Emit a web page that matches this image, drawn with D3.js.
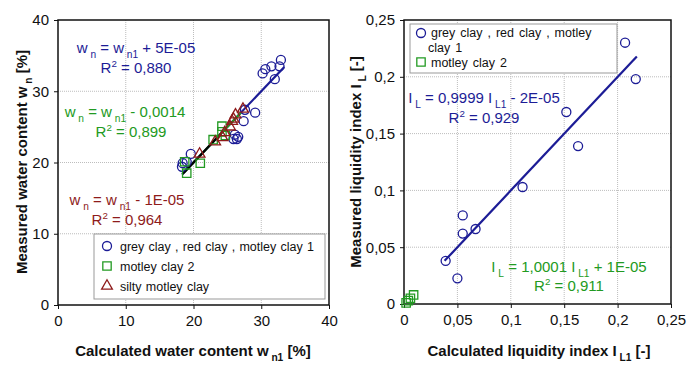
<!DOCTYPE html>
<html><head><meta charset="utf-8">
<script src="https://cdn.jsdelivr.net/npm/d3@7"></script>
<style>
body{margin:0;background:#fff;}
svg{font-family:"Liberation Sans",Arial,sans-serif;}
</style></head>
<body><svg id="c" width="700" height="373"></svg>
<script>
// ---- data ----
const leftTicks = [0, 10, 20, 30, 40];
const rightTicks = [0, 0.05, 0.1, 0.15, 0.2, 0.25];
const rightTickLabels = ["0", "0,05", "0,1", "0,15", "0,2", "0,25"];

const greyX = [18.4, 18.3, 19.0, 19.6, 25.9, 26.1, 26.4, 26.6, 27.4, 27.6, 29.1, 30.2, 30.6, 31.5, 32.0, 32.7, 32.9];
const greyY = [19.9, 19.4, 20.1, 21.2, 23.3, 23.9, 23.3, 23.6, 25.8, 27.4, 27.0, 32.5, 33.1, 33.5, 31.7, 33.5, 34.4];
const motleyX = [18.7, 19.0, 21.0, 22.9, 24.2, 24.2, 24.7];
const motleyY = [20.1, 18.5, 19.9, 23.2, 24.3, 25.1, 23.8];
const siltyX = [20.9, 23.2, 24.3, 24.6, 25.4, 25.7, 25.9, 26.2, 27.3];
const siltyY = [21.2, 22.9, 23.5, 24.2, 25.0, 25.8, 26.1, 26.7, 27.5];

const liqGreyX = [0.039, 0.050, 0.055, 0.055, 0.067, 0.111, 0.152, 0.163, 0.207, 0.217];
const liqGreyY = [0.038, 0.0226, 0.078, 0.062, 0.066, 0.103, 0.169, 0.139, 0.230, 0.198];
const liqMotleyX = [0.002, 0.004, 0.006, 0.009];
const liqMotleyY = [0.001, 0.003, 0.005, 0.008];

// trendlines: [slope, intercept, xStart, xEnd]
const trendGrey = [1, 0.00005, 18.3, 33.4];
const trendMotley = [1, -0.0014, 18.7, 27.0];
const trendBlack = [1, -0.00001, 18.4, 24.0];
const trendLiqGrey = [0.9999, -0.00002, 0.038, 0.218];

const BLUE = "#1c1c96", GREEN = "#229a22", RED = "#8e1b1b";

const svg = d3.select("#c");

function symbolPath(type, size) {
  return d3.symbol().type(type).size(size)();
}

function drawPanel(o) {
  const g = svg.append("g");
  const x = d3.scaleLinear().domain(o.domain).range([o.x0, o.x1]);
  const y = d3.scaleLinear().domain(o.domain).range([o.y1, o.y0]);
  g.append("g").selectAll("line").data(o.ticks.slice(1, -1)).join("line")
    .attr("x1", d => x(d)).attr("x2", d => x(d)).attr("y1", o.y0).attr("y2", o.y1)
    .attr("stroke", "#bdbdbd").attr("stroke-width", 1).attr("stroke-dasharray", "1,1");
  g.append("g").selectAll("line").data(o.ticks.slice(1, -1)).join("line")
    .attr("y1", d => y(d)).attr("y2", d => y(d)).attr("x1", o.x0).attr("x2", o.x1)
    .attr("stroke", "#bdbdbd").attr("stroke-width", 1).attr("stroke-dasharray", "1,1");
  const ax = d3.axisBottom(x).tickValues(o.ticks).tickSize(4).tickPadding(6).tickFormat((d, i) => o.labels[i]);
  const ay = d3.axisLeft(y).tickValues(o.ticks).tickSize(4).tickPadding(5).tickFormat((d, i) => o.labels[i]);
  const gx = g.append("g").attr("transform", `translate(0,${o.y1})`).call(ax);
  const gy = g.append("g").attr("transform", `translate(${o.x0},0)`).call(ay);
  [gx, gy].forEach(a => {
    a.select(".domain").remove();
    a.selectAll("text").attr("font-size", 15).attr("fill", "#111").attr("font-family", "Liberation Sans, Arial, sans-serif");
    a.selectAll("line").attr("stroke", "#111");
  });
  g.append("rect").attr("x", o.x0).attr("y", o.y0).attr("width", o.x1 - o.x0).attr("height", o.y1 - o.y0)
    .attr("fill", "none").attr("stroke", "#111").attr("stroke-width", 1.5);
  return {g, x, y};
}

function trend(p, t, color, w) {
  const xs = [t[2], t[3]];
  p.g.append("line")
    .attr("x1", p.x(xs[0])).attr("y1", p.y(t[0] * xs[0] + t[1]))
    .attr("x2", p.x(xs[1])).attr("y2", p.y(t[0] * xs[1] + t[1]))
    .attr("stroke", color).attr("stroke-width", w || 2.2);
}

function points(p, xs, ys, type, color, size) {
  p.g.append("g").selectAll("path").data(xs.map((d, i) => [d, ys[i]])).join("path")
    .attr("d", symbolPath(type, size))
    .attr("transform", d => `translate(${p.x(d[0])},${p.y(d[1])})`)
    .attr("fill", "none").attr("stroke", color).attr("stroke-width", 1.3);
}

function rich(parent, x, y, parts, opts) {
  const t = parent.append("text").attr("x", x).attr("y", y)
    .attr("font-size", opts.size).attr("fill", opts.color)
    .attr("font-weight", opts.weight || "normal")
    .attr("text-anchor", opts.anchor || "start")
    .style("white-space", "pre");
  if (opts.rotate) t.attr("transform", `rotate(-90,${x},${y})`);
  parts.forEach(([s, k]) => {
    const ts = t.append("tspan").text(s);
    if (k === "sub") ts.attr("font-size", opts.size * 0.68).attr("dy", opts.size * 0.3);
    else if (k === "sup") ts.attr("font-size", opts.size * 0.65).attr("dy", -opts.size * 0.38);
    else if (k === "back") ts.attr("dy", -opts.size * 0.3);
    else if (k === "backsup") ts.attr("dy", opts.size * 0.38);
  });
  return t;
}

// ---- left panel ----
const L = drawPanel({domain: [0, 40], ticks: leftTicks, labels: leftTicks.map(String), x0: 58, x1: 329, y0: 20, y1: 305});
trend(L, trendGrey, BLUE);
trend(L, trendMotley, GREEN);
trend(L, trendBlack, "#000");
points(L, greyX, greyY, d3.symbolCircle, BLUE, 64);
points(L, motleyX, motleyY, d3.symbolSquare, GREEN, 70);
points(L, siltyX, siltyY, d3.symbolTriangle, RED, 50);

const eqS = 15;
rich(L.g, 136, 53, [["w", "n"], [" n", "sub"], [" = w", "back"], [" n1", "sub"], [" + 5E-05", "back"]], {size: eqS, color: BLUE, anchor: "middle"});
rich(L.g, 136, 73, [["R", "n"], ["2", "sup"], [" = 0,880", "backsup"]], {size: eqS, color: BLUE, anchor: "middle"});
rich(L.g, 125, 117, [["w", "n"], [" n", "sub"], [" = w", "back"], [" n1", "sub"], [" - 0,0014", "back"]], {size: eqS, color: GREEN, anchor: "middle"});
rich(L.g, 131, 137, [["R", "n"], ["2", "sup"], [" = 0,899", "backsup"]], {size: eqS, color: GREEN, anchor: "middle"});
rich(L.g, 127, 205, [["w", "n"], [" n", "sub"], [" = w", "back"], [" n1", "sub"], [" - 1E-05", "back"]], {size: eqS, color: RED, anchor: "middle"});
rich(L.g, 127, 225, [["R", "n"], ["2", "sup"], [" = 0,964", "backsup"]], {size: eqS, color: RED, anchor: "middle"});

// left legend
const legL = L.g.append("g");
legL.append("rect").attr("x", 94).attr("y", 234).attr("width", 231).attr("height", 65)
  .attr("fill", "#fff").attr("stroke", "#999").attr("stroke-width", 1);
const legLItems = [
  ["grey clay , red clay , motley clay 1", d3.symbolCircle, BLUE, 64],
  ["motley clay 2", d3.symbolSquare, GREEN, 70],
  ["silty motley clay", d3.symbolTriangle, RED, 50]
];
legLItems.forEach((it, i) => {
  const yy = 246 + i * 20;
  legL.append("path").attr("d", symbolPath(it[1], it[3])).attr("transform", `translate(107,${yy})`)
    .attr("fill", "none").attr("stroke", it[2]).attr("stroke-width", 1.3);
  legL.append("text").attr("x", 120).attr("y", yy + 5).attr("font-size", 12.5).attr("fill", "#111")
    .attr("word-spacing", 0.8).text(it[0]);
});

// left axis titles
rich(svg, 193, 356, [["Calculated water content w", "n"], [" n1", "sub"], [" [%]", "back"]], {size: 15, color: "#111", weight: "bold", anchor: "middle"});
rich(svg, 27, 162, [["Measured water content w", "n"], [" n", "sub"], [" [%]", "back"]], {size: 15, color: "#111", weight: "bold", anchor: "middle", rotate: true});

// ---- right panel ----
const R = drawPanel({domain: [0, 0.25], ticks: rightTicks, labels: rightTickLabels, x0: 404, x1: 671, y0: 20, y1: 304});
trend(R, trendLiqGrey, BLUE);
points(R, liqGreyX, liqGreyY, d3.symbolCircle, BLUE, 64);
points(R, liqMotleyX, liqMotleyY, d3.symbolSquare, GREEN, 70);

rich(R.g, 484, 103, [["I", "n"], [" L", "sub"], [" = 0,9999 I", "back"], [" L1", "sub"], [" - 2E-05", "back"]], {size: eqS, color: BLUE, anchor: "middle"});
rich(R.g, 484, 123, [["R", "n"], ["2", "sup"], [" = 0,929", "backsup"]], {size: eqS, color: BLUE, anchor: "middle"});
rich(R.g, 569, 272, [["I", "n"], [" L", "sub"], [" = 1,0001 I", "back"], [" L1", "sub"], [" + 1E-05", "back"]], {size: eqS, color: GREEN, anchor: "middle"});
rich(R.g, 569, 291, [["R", "n"], ["2", "sup"], [" = 0,911", "backsup"]], {size: eqS, color: GREEN, anchor: "middle"});

// right legend
const legR = R.g.append("g");
legR.append("rect").attr("x", 410).attr("y", 24).attr("width", 207).attr("height", 49)
  .attr("fill", "#fff").attr("stroke", "#999").attr("stroke-width", 1);
legR.append("path").attr("d", symbolPath(d3.symbolCircle, 64)).attr("transform", "translate(421,33)")
  .attr("fill", "none").attr("stroke", BLUE).attr("stroke-width", 1.3);
legR.append("text").attr("x", 431).attr("y", 37).attr("font-size", 12.5).attr("fill", "#111").attr("word-spacing", 1.5)
  .text("grey clay , red clay , motley");
legR.append("text").attr("x", 428).attr("y", 52).attr("font-size", 12.5).attr("fill", "#111").attr("word-spacing", 1.5)
  .text("clay 1");
legR.append("path").attr("d", symbolPath(d3.symbolSquare, 70)).attr("transform", "translate(421,62)")
  .attr("fill", "none").attr("stroke", GREEN).attr("stroke-width", 1.3);
legR.append("text").attr("x", 431).attr("y", 67).attr("font-size", 12.5).attr("fill", "#111").attr("word-spacing", 1.5)
  .text("motley clay 2");

rich(svg, 539, 356, [["Calculated liquidity index I", "n"], [" L1", "sub"], [" [-]", "back"]], {size: 15, color: "#111", weight: "bold", anchor: "middle"});
rich(svg, 361, 162, [["Measured liquidity index I", "n"], [" L", "sub"], [" [-]", "back"]], {size: 15, color: "#111", weight: "bold", anchor: "middle", rotate: true});
</script></body></html>
